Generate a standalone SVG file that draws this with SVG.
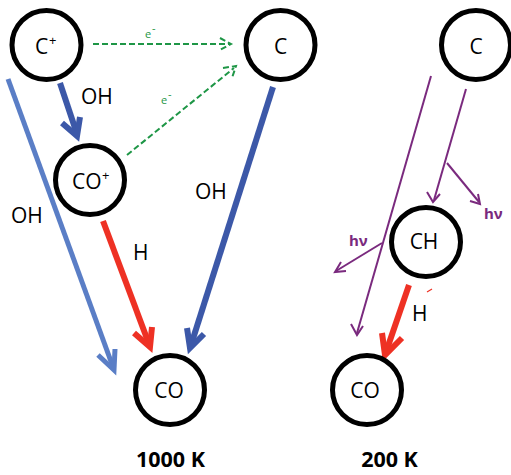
<svg xmlns="http://www.w3.org/2000/svg" width="511" height="475" viewBox="0 0 511 475">
<style>
.node circle{fill:#fff;stroke:#000;stroke-width:5}
text{font-family:"Open Sans","Noto Sans","Liberation Sans",sans-serif;fill:#000}
.lbl{font-size:21px}
.sup{font-size:13px}
.e{font-size:11px;fill:#1e9646}
.hv{font-size:15px;font-weight:bold;fill:#7a2a7e}
.temp{font-size:21.5px;font-weight:bold}
.a{fill:none;stroke-linecap:butt;stroke-linejoin:miter}
.db{stroke:#3c58a8;stroke-width:6}
.lb{stroke:#5a7ec6;stroke-width:5}
.rd{stroke:#ee3124;stroke-width:6}
.gr{stroke:#1e9646;stroke-width:2;stroke-dasharray:6 3}
.pu{stroke:#7a2a7e;stroke-width:2}
</style>
<g id="connectors">
  <!-- C+ -> CO+ -->
  <path class="a db" d="M60,83 L77,134"/>
  <path class="a db" d="M62,123 L77,136 L80,117"/>
  <!-- C+ -> CO (long) -->
  <path class="a lb" d="M8,79 L113,367"/>
  <path class="a lb" d="M98,355 L114,370 L115,349"/>
  <!-- CO+ -> CO -->
  <path class="a rd" d="M103,221 L149,344"/>
  <path class="a rd" d="M134,333 L150,347 L152,327"/>
  <!-- C -> CO -->
  <path class="a db" d="M273,87 L191,345"/>
  <path class="a db" d="M187,328 L190,348 L204,334"/>
  <!-- green e- -->
  <path class="a gr" d="M93,44 L229,44"/>
  <path class="a gr" d="M220,38 L231,44 L220,50" stroke-dasharray="none"/>
  <path class="a gr" d="M127,155 L234,68"/>
  <path class="a gr" d="M223,68 L236,66 L232,78" stroke-dasharray="none"/>
  <!-- purple right side -->
  <path class="a pu" d="M466,89 L434,200"/>
  <path class="a pu" d="M427,192 L433,202 L440,194"/>
  <path class="a pu" d="M447,163 L479,202"/>
  <path class="a pu" d="M470,201 L480,204 L478,194"/>
  <path class="a pu" d="M431,76 L357,333"/>
  <path class="a pu" d="M351,324 L357,335 L363,326"/>
  <path class="a pu" d="M382,243 L336,271"/>
  <path class="a pu" d="M341,262 L335,272 L346,271"/>
  <!-- CH -> CO red -->
  <path class="a rd" d="M409,285 L386,352"/>
  <path class="a rd" d="M382,333 L385,355 L402,338"/>
  <path d="M427,292 L432,289" stroke="#ee3124" stroke-width="1.2"/>
</g>
<g id="node-Cplus" class="node">
  <circle cx="46.5" cy="45" r="34.5"/>
  <text class="lbl" x="35" y="54">C</text><text class="sup" x="49" y="45">+</text>
</g>
<g id="node-C-1000" class="node">
  <circle cx="280.5" cy="45" r="34.5"/>
  <text class="lbl" x="280.5" y="54" text-anchor="middle">C</text>
</g>
<g id="node-COplus" class="node">
  <circle cx="90" cy="180" r="34.5"/>
  <text class="lbl" x="72" y="189">CO</text><text class="sup" x="102" y="180">+</text>
</g>
<g id="node-CO-1000" class="node">
  <circle cx="170" cy="390" r="34.5"/>
  <text class="lbl" x="169" y="398" text-anchor="middle">CO</text>
</g>
<g id="node-C-200" class="node">
  <circle cx="476" cy="45" r="34.5"/>
  <text class="lbl" x="476" y="54" text-anchor="middle">C</text>
</g>
<g id="node-CH" class="node">
  <circle cx="426" cy="242" r="34.5"/>
  <text class="lbl" x="424" y="249" text-anchor="middle">CH</text>
</g>
<g id="node-CO-200" class="node">
  <circle cx="367" cy="390" r="34.5"/>
  <text class="lbl" x="365" y="398" text-anchor="middle">CO</text>
</g>
<g id="labels">
  <text class="lbl" x="81" y="104">OH</text>
  <text class="lbl" x="11" y="223">OH</text>
  <text class="lbl" x="195" y="199">OH</text>
  <text class="lbl" x="133" y="260">H</text>
  <text class="lbl" x="412" y="321">H</text>
  <text class="e" x="145" y="38">e</text><text class="e" x="152" y="32" font-size="8">-</text>
  <text class="e" x="161" y="104">e</text><text class="e" x="168" y="98" font-size="8">-</text>
  <text class="hv" x="484" y="219">hν</text>
  <text class="hv" x="349" y="246">hν</text>
  <text class="temp" x="170.5" y="467" text-anchor="middle">1000 K</text>
  <text class="temp" x="389.5" y="467" text-anchor="middle">200 K</text>
</g>
</svg>
